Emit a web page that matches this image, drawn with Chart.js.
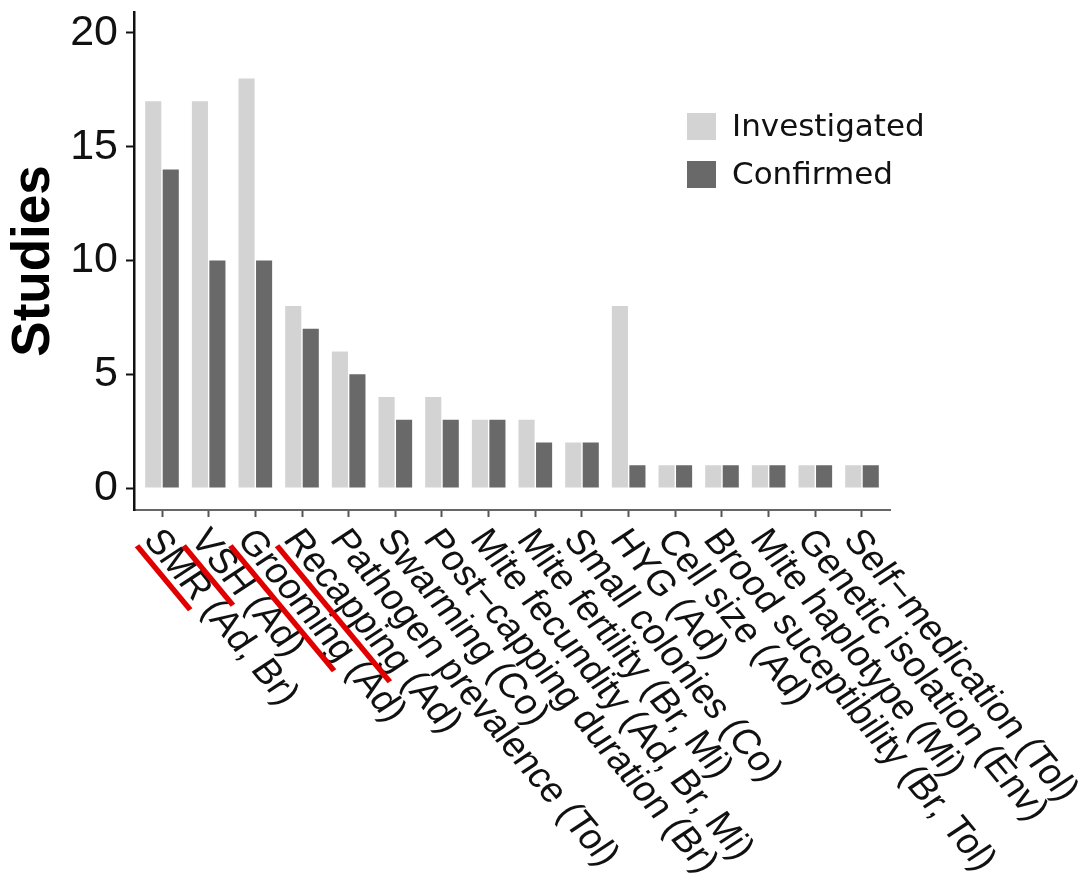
<!DOCTYPE html>
<html>
<head>
<meta charset="utf-8">
<script src="https://cdn.jsdelivr.net/npm/chart.js@4/dist/chart.umd.min.js"></script>
<style>
  html, body { margin: 0; padding: 0; background: #fff; }
  canvas { display: block; }
</style>
</head>
<body>
<canvas id="studiesChart" width="1086" height="880"></canvas>
<script>
var categories = [
    'SMR (Ad, Br)', 'VSH (Ad)', 'Grooming (Ad)', 'Recapping (Ad)',
    'Pathogen prevalence (Tol)', 'Swarming (Co)', 'Post\u2212capping duration (Br)',
    'Mite fecundity (Ad, Br, Mi)', 'Mite fertility (Br, Mi)', 'Small colonies (Co)',
    'HYG (Ad)', 'Cell size (Ad)', 'Brood suceptibility (Br, Tol)',
    'Mite haplotype (Mi)', 'Genetic isolation (Env)', 'Self\u2212medication (Tol)'
];
var investigated = [17, 17, 18, 8, 6, 4, 4, 3, 3, 2, 8, 1, 1, 1, 1, 1];
var confirmed = [14, 10, 10, 7, 5, 3, 3, 3, 2, 2, 1, 1, 1, 1, 1, 1];
var yTicks = [0, 5, 10, 15, 20];
var highlighted = ['SMR', 'VSH', 'Grooming', 'Recapping']; // red strokes under these

function toPoints(values) {
    return values.map(function(v, i) { return { x: i + 1, y: v }; });
}

// slanted category labels + the legend, drawn by hand
var labelPlugin = {
    id: 'slantedLabels',
    afterDraw: function(chart) {
        var ctx = chart.ctx;
        var xScale = chart.scales.x;
        var angle = 53.5 * Math.PI / 180;

        ctx.save();
        ctx.font = '35px "Liberation Sans", Arial, sans-serif';
        ctx.fillStyle = '#111';
        ctx.textAlign = 'left';
        ctx.textBaseline = 'middle';
        categories.forEach(function(label, i) {
            var px = xScale.getPixelForValue(i + 1);
            ctx.save();
            ctx.translate(px - 11, xScale.top + 24);
            ctx.scale(1.12, 1);
            ctx.rotate(angle);
            ctx.fillText(label, 0, 0);
            var word = label.split(' ')[0];
            if (highlighted.indexOf(word) >= 0) {
                var w = ctx.measureText(word).width;
                ctx.strokeStyle = '#e00000';
                ctx.lineWidth = 5;
                ctx.beginPath();
                ctx.moveTo(2, 17);
                ctx.lineTo(w + 4, 17);
                ctx.stroke();
            }
            ctx.restore();
        });

        // legend
        ctx.font = '31px "DejaVu Sans", Verdana, sans-serif';
        ctx.textAlign = 'left';
        ctx.textBaseline = 'middle';
        chart.data.datasets.forEach(function(ds, i) {
            var top = 113 + i * 48;
            ctx.fillStyle = ds.backgroundColor;
            ctx.fillRect(687, top, 29, 27);
            ctx.fillStyle = '#111';
            ctx.fillText(ds.label, 732, top + 15);
        });
        ctx.restore();
    }
};

var ctx = document.getElementById('studiesChart').getContext('2d');
var chart = new Chart(ctx, {
    type: 'bar',
    data: {
        datasets: [
            {
                label: 'Investigated',
                data: toPoints(investigated),
                backgroundColor: '#d3d3d3',
                borderWidth: 0,
                categoryPercentage: 0.75,
                barPercentage: 0.92
            },
            {
                label: 'Confirmed',
                data: toPoints(confirmed),
                backgroundColor: '#696969',
                borderWidth: 0,
                categoryPercentage: 0.75,
                barPercentage: 0.92
            }
        ]
    },
    options: {
        responsive: false,
        animation: false,
        layout: { padding: { top: 12, right: 196, bottom: 0, left: 0 } },
        plugins: {
            legend: { display: false },
            tooltip: { enabled: false }
        },
        scales: {
            x: {
                type: 'linear',
                min: 0.4,
                max: 16.6,
                offset: false,
                grid: {
                    offset: false,
                    drawOnChartArea: false,
                    drawTicks: true,
                    tickLength: 7,
                    tickWidth: 2,
                    tickColor: '#555'
                },
                border: { display: true, color: '#666', width: 2 },
                ticks: { display: false },
                afterBuildTicks: function(scale) {
                    scale.ticks = categories.map(function(c, i) { return { value: i + 1 }; });
                },
                afterFit: function(scale) {
                    scale.height = 370;
                }
            },
            y: {
                min: -0.967,
                max: 20.923,
                afterBuildTicks: function(scale) {
                    scale.ticks = yTicks.map(function(v) { return { value: v }; });
                },
                ticks: {
                    font: { family: '"Liberation Sans", Arial, sans-serif', size: 43 },
                    color: '#111',
                    padding: 8
                },
                grid: {
                    drawOnChartArea: false,
                    tickLength: 8,
                    tickWidth: 2,
                    tickColor: '#111'
                },
                border: { display: true, color: '#111', width: 2.5 },
                title: {
                    display: true,
                    text: 'Studies',
                    color: '#000',
                    font: { family: '"Liberation Sans", Arial, sans-serif', size: 53, weight: 'bold' },
                    padding: { top: 3, bottom: 0 }
                },
                afterFit: function(scale) {
                    scale.width = 134;
                    scale.paddingTop = 0;
                    scale.paddingBottom = 0;
                }
            }
        }
    },
    plugins: [labelPlugin]
});
</script>
</body>
</html>
